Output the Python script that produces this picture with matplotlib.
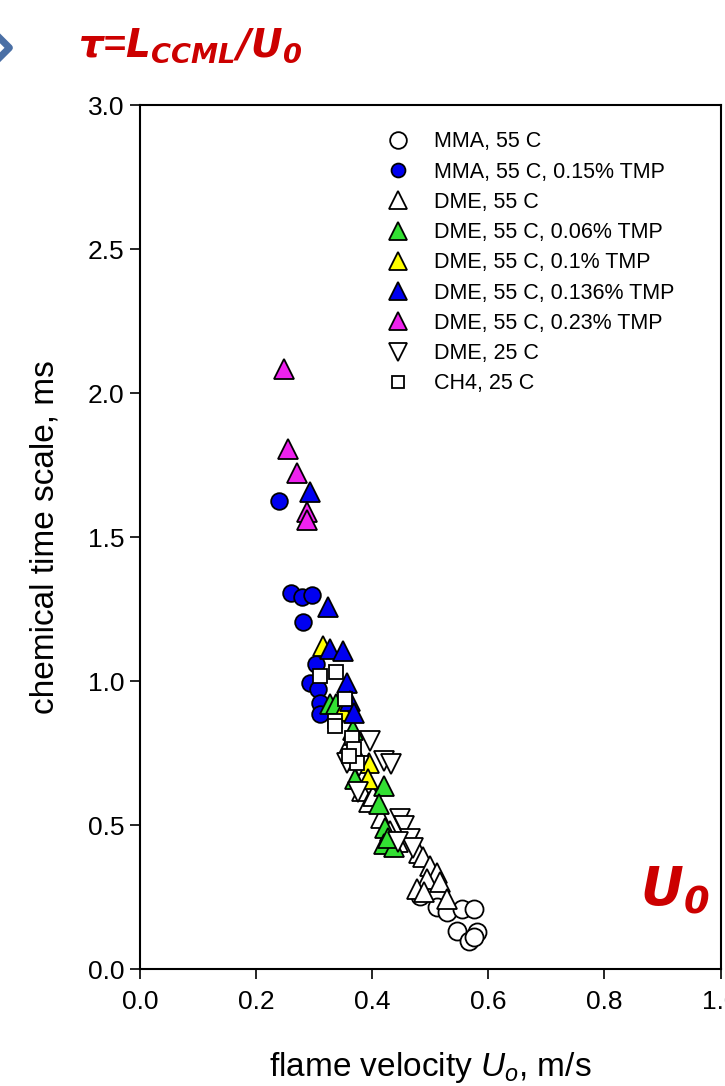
import matplotlib
matplotlib.use("Agg")
import matplotlib.pyplot as plt
from matplotlib.lines import Line2D

plt.rcParams['font.family'] = ['Liberation Sans', 'DejaVu Sans']
plt.rcParams['mathtext.fontset'] = 'custom'
plt.rcParams['mathtext.rm'] = 'Liberation Sans'
plt.rcParams['mathtext.it'] = 'Liberation Sans:italic'
plt.rcParams['mathtext.bfit'] = 'DejaVu Sans:italic:bold'

# ---- data ----
mma55_x = [0.483, 0.511, 0.529, 0.555, 0.575, 0.546, 0.566, 0.580, 0.576]
mma55_y = [0.254, 0.214, 0.197, 0.208, 0.208, 0.133, 0.098, 0.127, 0.110]

mma_tmp_x = [0.239, 0.260, 0.279, 0.297, 0.281, 0.304, 0.293, 0.307, 0.310, 0.310]
mma_tmp_y = [1.624, 1.307, 1.293, 1.297, 1.205, 1.058, 0.994, 0.971, 0.925, 0.885]

dme55_x = [0.360, 0.372, 0.382, 0.395, 0.402, 0.416, 0.431, 0.444, 0.480,
           0.488, 0.500, 0.511, 0.494, 0.517, 0.477, 0.489, 0.529]
dme55_y = [0.780, 0.750, 0.618, 0.580, 0.601, 0.526, 0.480, 0.440, 0.404,
           0.390, 0.358, 0.335, 0.312, 0.301, 0.277, 0.266, 0.243]

dme006_x = [0.328, 0.338, 0.367, 0.371, 0.420, 0.411, 0.422, 0.420, 0.437, 0.428]
dme006_y = [0.919, 0.919, 0.830, 0.660, 0.636, 0.572, 0.491, 0.433, 0.422, 0.455]

dme01_x = [0.316, 0.350, 0.394, 0.392]
dme01_y = [1.120, 0.896, 0.717, 0.660]

dme0136_x = [0.292, 0.323, 0.327, 0.350, 0.356, 0.362, 0.368]
dme0136_y = [1.658, 1.258, 1.110, 1.104, 0.994, 0.931, 0.888]

dme023_x = [0.248, 0.255, 0.271, 0.287, 0.287]
dme023_y = [2.085, 1.806, 1.723, 1.586, 1.558]

dme25_x = [0.396, 0.356, 0.378, 0.420, 0.432, 0.375, 0.448, 0.455, 0.465, 0.471, 0.445]
dme25_y = [0.792, 0.717, 0.705, 0.722, 0.712, 0.615, 0.520, 0.498, 0.450, 0.420, 0.440]

ch4_x = [0.310, 0.338, 0.353, 0.336, 0.336, 0.365, 0.369, 0.374, 0.360]
ch4_y = [1.017, 1.032, 0.937, 0.862, 0.844, 0.803, 0.763, 0.717, 0.740]

labels = ["MMA, 55 C", "MMA, 55 C, 0.15% TMP", "DME, 55 C",
          "DME, 55 C, 0.06% TMP", "DME, 55 C, 0.1% TMP", "DME, 55 C, 0.136% TMP",
          "DME, 55 C, 0.23% TMP", "DME, 25 C", "CH4, 25 C"]
x_ticks = [0.0, 0.2, 0.4, 0.6, 0.8, 1.0]
y_ticks = [0.0, 0.5, 1.0, 1.5, 2.0, 2.5, 3.0]

series = [
    (mma55_x, mma55_y, 'o', 'white', 13),
    (mma_tmp_x, mma_tmp_y, 'o', '#0000F0', 12),
    (dme55_x, dme55_y, '^', 'white', 14),
    (dme006_x, dme006_y, '^', '#33E033', 14),
    (dme01_x, dme01_y, '^', '#FFFF00', 14),
    (dme0136_x, dme0136_y, '^', '#0000F0', 14),
    (dme023_x, dme023_y, '^', '#EE22EE', 14),
    (dme25_x, dme25_y, 'v', 'white', 14),
    (ch4_x, ch4_y, 's', 'white', 9.5),
]
legend_ms = [12, 10, 13, 13, 13, 13, 13, 13, 8.5]

fig = plt.figure(figsize=(7.25, 10.86), dpi=100)
ax = fig.add_axes([0.1931, 0.1077, 0.8007, 0.7956])

handles = []
for (xs, ys, m, fc, ms), lab, lms in zip(series, labels, legend_ms):
    ax.plot(xs, ys, linestyle='none', marker=m, markerfacecolor=fc,
            markeredgecolor='black', markeredgewidth=1.3, markersize=ms)
    handles.append(Line2D([], [], linestyle='none', marker=m, markerfacecolor=fc,
                          markeredgecolor='black', markeredgewidth=1.3, markersize=lms))

ax.set_xlim(0, 1.0)
ax.set_ylim(0, 3.0)
ax.set_xticks(x_ticks)
ax.set_yticks(y_ticks)
ax.set_xticklabels([f"{v:.1f}" for v in x_ticks])
ax.set_yticklabels([f"{v:.1f}" for v in y_ticks])
ax.tick_params(direction='out', length=7, width=1.2, labelsize=19,
               top=False, right=False)
ax.tick_params(axis='x', pad=8)
ax.tick_params(axis='y', pad=4)
for s in ax.spines.values():
    s.set_linewidth(1.5)

ax.set_xlabel(r"flame velocity $U_o$, m/s", fontsize=24, labelpad=26)
ax.set_ylabel("chemical time scale, ms", fontsize=24, labelpad=20)

leg = ax.legend(handles, labels, loc='upper left', bbox_to_anchor=(0.518, 0.889),
                bbox_transform=fig.transFigure, frameon=False, fontsize=15.5,
                handlelength=1.1, handletextpad=1.1, labelspacing=0.43, borderpad=0)

ax.text(0.922, 0.09, r"$\mathbfit{U_0}$", transform=ax.transAxes, color='#CC0000',
        fontsize=38, ha='center', va='center')

fig.text(0.107, 0.958, r"$\mathbfit{τ}$=$\mathbfit{L_{CCML}/U_0}$", color='#CC0000',
         fontsize=28, ha='left', va='center', fontweight='bold', style='italic')

fig.add_artist(Line2D([-0.005, 0.013, -0.005], [0.968, 0.956, 0.944],
                      transform=fig.transFigure, color='#4A6FA5', linewidth=5))

fig.savefig("out.png", dpi=100)
